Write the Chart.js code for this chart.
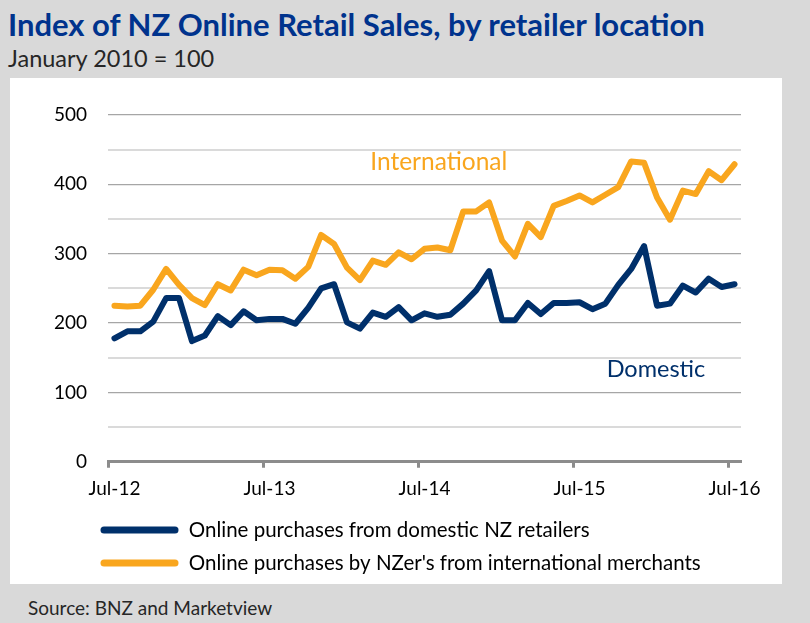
<!DOCTYPE html>
<html>
<head>
<meta charset="utf-8">
<script src="https://cdn.jsdelivr.net/npm/chart.js@4.4.1/dist/chart.umd.min.js"></script>
<style>
  body { margin: 0; width: 810px; height: 623px; background: #d9d9d9; position: relative; overflow: hidden; font-family: Lato, sans-serif; }
  .txt { position: absolute; line-height: 1; white-space: nowrap; }
  #title { left: 8px; top: 8.5px; font-size: 31px; font-weight: bold; color: #00338d; }
  #sub { left: 8px; top: 47px; font-size: 23.5px; color: #262626; }
  #source { left: 28px; top: 598px; font-size: 19px; color: #262626; }
  #panel { position: absolute; left: 10px; top: 78px; width: 772px; height: 506px; background: #fff; }
  #wrap { position: absolute; left: 10px; top: 78px; }
</style>
</head>
<body>
<div class="txt" id="title">Index of NZ Online Retail Sales, by retailer location</div>
<div class="txt" id="sub">January 2010 = 100</div>
<div id="panel"></div>
<div class="txt" id="source">Source: BNZ and Marketview</div>
<div id="wrap"><canvas id="my-chart" width="772" height="540"></canvas></div>
<script>
// monthly, Jul-12 .. Jul-16
let months = [
  "Jul-12", "Aug-12", "Sep-12", "Oct-12", "Nov-12", "Dec-12",
  "Jan-13", "Feb-13", "Mar-13", "Apr-13", "May-13", "Jun-13",
  "Jul-13", "Aug-13", "Sep-13", "Oct-13", "Nov-13", "Dec-13",
  "Jan-14", "Feb-14", "Mar-14", "Apr-14", "May-14", "Jun-14",
  "Jul-14", "Aug-14", "Sep-14", "Oct-14", "Nov-14", "Dec-14",
  "Jan-15", "Feb-15", "Mar-15", "Apr-15", "May-15", "Jun-15",
  "Jul-15", "Aug-15", "Sep-15", "Oct-15", "Nov-15", "Dec-15",
  "Jan-16", "Feb-16", "Mar-16", "Apr-16", "May-16", "Jun-16",
  "Jul-16"
];

let domestic = [
  178, 188, 188, 202, 236, 236, 174, 182, 210, 197, 217, 204,
  206, 206, 199, 222, 250, 256, 201, 192, 215, 209, 223, 204,
  214, 209, 212, 228, 247, 275, 204, 204, 229, 213, 229, 229,
  230, 220, 228, 255, 278, 311, 225, 228, 254, 244, 264, 252,
  256
];

let international = [
  225, 224, 225, 248, 278, 255, 236, 226, 256, 247, 277, 269,
  277, 276, 264, 281, 327, 314, 280, 262, 290, 284, 302, 292,
  307, 309, 305, 361, 361, 374, 319, 296, 343, 324, 369, 376,
  384, 374, 385, 396, 433, 431, 381, 349, 391, 386, 419, 406,
  429
];

let seriesNames = [
  "Online purchases from domestic NZ retailers",
  "Online purchases by NZer's from international merchants"
];

let navy = "#00306b";
let orange = "#f9a61e";

// in-chart series labels ("International", "Domestic")
let seriesTags = {
  id: "seriesTags",
  afterLayout(chart) {
    // legend sits under the plot, not under the y labels
    chart.legend.left += 42;
    chart.legend.right += 42;
  },
  afterDatasetsDraw(chart) {
    let ctx = chart.ctx;
    let x = chart.scales.x;
    let y = chart.scales.y;
    ctx.save();
    ctx.textBaseline = "middle";
    ctx.textAlign = "left";
    ctx.font = "24.5px Lato";
    ctx.fillStyle = orange;
    ctx.fillText("International", x.getPixelForValue(19.8), y.getPixelForValue(432));
    ctx.font = "23.5px Lato";
    ctx.fillStyle = navy;
    ctx.fillText("Domestic", x.getPixelForValue(38.1), y.getPixelForValue(133));
    ctx.restore();
  }
};

let myChart = document.getElementById("my-chart").getContext("2d");

let salesChart = new Chart(myChart, {
  type: "line",
  data: {
    labels: months,
    datasets: [
      {
        label: seriesNames[0],
        data: domestic,
        borderColor: navy,
        backgroundColor: navy,
        borderWidth: 6,
        pointRadius: 0,
        borderJoinStyle: "round",
        borderCapStyle: "round",
      },
      {
        label: seriesNames[1],
        data: international,
        borderColor: orange,
        backgroundColor: orange,
        borderWidth: 6,
        pointRadius: 0,
        borderJoinStyle: "round",
        borderCapStyle: "round",
      },
    ],
  },
  options: {
    responsive: false,
    animation: false,
    layout: { padding: { left: 36, right: 41, top: 37, bottom: 34.75 } },
    scales: {
      x: {
        offset: true,
        ticks: {
          autoSkip: false,
          maxRotation: 0,
          padding: 10,
          color: "#000",
          font: { family: "Lato", size: 19 },
          callback: function (v, i) { return i % 12 === 0 ? months[i] : ""; },
        },
        grid: {
          offset: true,
          drawOnChartArea: false,
          tickLength: 6,
          tickWidth: 3,
          tickColor: (c) => (c.index % 12 === 0 ? "#8c8c8c" : "rgba(0,0,0,0)"),
        },
        border: { color: "#8c8c8c", width: 3 },
        afterFit: (s) => { s.height = 45.5; },
      },
      y: {
        min: 0,
        max: 500,
        ticks: {
          stepSize: 50,
          padding: 21,
          color: "#000",
          font: { family: "Lato", size: 19 },
          callback: (v) => (v % 100 === 0 ? v : ""),
        },
        grid: {
          drawTicks: false,
          color: (c) => (c.tick.value % 100 === 0 ? "#a6a6a6" : "#dadada"),
          lineWidth: (c) => (c.tick.value % 100 === 0 ? 1.3 : 2),
        },
        border: { display: false },
        afterFit: (s) => { s.width = 62; },
      },
    },
    plugins: {
      legend: {
        position: "bottom",
        align: "start",
        labels: {
          boxWidth: 78,
          boxHeight: 7,
          padding: 12.5,
          color: "#000",
          font: { family: "Lato", size: 20.5 },
          generateLabels: (chart) =>
            chart.data.datasets.map((d, i) => ({
              text: d.label,
              fillStyle: d.borderColor,
              strokeStyle: d.borderColor,
              lineWidth: 0,
              borderRadius: 3.5,
              datasetIndex: i,
            })),
          useBorderRadius: true,
        },
      },
      tooltip: { enabled: false },
    },
  },
  plugins: [seriesTags],
});
</script>
</body>
</html>
